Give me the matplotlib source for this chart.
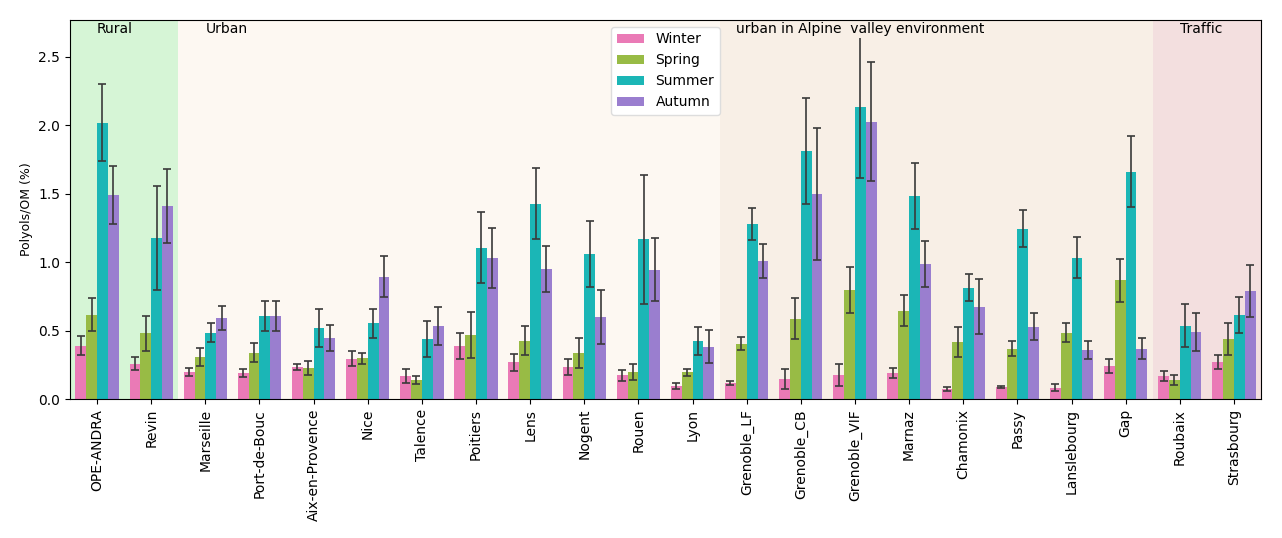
import numpy as np
import matplotlib.pyplot as plt

sites = ['OPE-ANDRA', 'Revin', 'Marseille', 'Port-de-Bouc', 'Aix-en-Provence', 'Nice',
         'Talence', 'Poitiers', 'Lens', 'Nogent', 'Rouen', 'Lyon', 'Grenoble_LF',
         'Grenoble_CB', 'Grenoble_VIF', 'Marnaz', 'Chamonix', 'Passy', 'Lanslebourg',
         'Gap', 'Roubaix', 'Strasbourg']
seasons = ['Winter', 'Spring', 'Summer', 'Autumn']

winter = [0.39, 0.26, 0.20, 0.19, 0.236, 0.295, 0.17, 0.39, 0.268, 0.236, 0.175, 0.097,
          0.119, 0.148, 0.175, 0.19, 0.075, 0.09, 0.083, 0.243, 0.17, 0.273]
spring = [0.616, 0.48, 0.31, 0.34, 0.229, 0.30, 0.14, 0.47, 0.426, 0.338, 0.20, 0.197,
          0.404, 0.587, 0.80, 0.645, 0.419, 0.368, 0.485, 0.867, 0.141, 0.44]
summer = [2.02, 1.18, 0.487, 0.61, 0.52, 0.553, 0.438, 1.106, 1.428, 1.06, 1.167, 0.424,
          1.279, 1.815, 2.137, 1.486, 0.814, 1.245, 1.033, 1.662, 0.536, 0.614]
autumn = [1.49, 1.41, 0.594, 0.61, 0.448, 0.894, 0.536, 1.033, 0.952, 0.60, 0.945, 0.382,
          1.011, 1.50, 2.025, 0.989, 0.675, 0.529, 0.36, 0.368, 0.492, 0.792]

winter_err = [0.07, 0.05, 0.03, 0.027, 0.023, 0.056, 0.05, 0.096, 0.065, 0.06, 0.04, 0.02,
              0.017, 0.07, 0.08, 0.035, 0.012, 0.008, 0.025, 0.052, 0.038, 0.052]
spring_err = [0.12, 0.13, 0.065, 0.07, 0.05, 0.04, 0.03, 0.166, 0.105, 0.107, 0.06, 0.025,
              0.047, 0.15, 0.168, 0.113, 0.11, 0.055, 0.07, 0.156, 0.038, 0.116]
summer_err = [0.28, 0.38, 0.07, 0.11, 0.14, 0.105, 0.13, 0.26, 0.26, 0.24, 0.47, 0.10,
              0.116, 0.387, 0.52, 0.24, 0.10, 0.136, 0.15, 0.257, 0.157, 0.133]
autumn_err = [0.21, 0.27, 0.09, 0.11, 0.095, 0.15, 0.14, 0.22, 0.17, 0.195, 0.23, 0.12,
              0.124, 0.48, 0.435, 0.166, 0.20, 0.10, 0.065, 0.078, 0.14, 0.19]

# environment groups: (label, first site index, last site index, colour)
regions = [('Rural', 0, 1, '#d6f5d6'),
           ('Urban', 2, 11, '#fdf8f2'),
           ('urban in Alpine  valley environment', 12, 19, '#f8efe6'),
           ('Traffic', 20, 21, '#f3dfdf')]
label_x = [0, 2, 11.8, 20]

colors = ['#ea7ab6', '#98bb45', '#1bb6b6', '#9a7ecf']

fig = plt.figure(figsize=(12.82, 5.38), dpi=100)
ax = fig.add_axes([0.0546, 0.258, 0.929, 0.705])

for (name, i0, i1, col), lx in zip(regions, label_x):
    ax.axvspan(i0 - 0.5, i1 + 0.5, color=col, zorder=0, lw=0)
    ax.text(lx, 2.705, name, ha='left', va='center', fontsize=10, zorder=5,
            bbox=dict(facecolor=col, edgecolor='none', pad=1.5))

x = np.arange(len(sites))
w = 0.2
values = [winter, spring, summer, autumn]
errs = [winter_err, spring_err, summer_err, autumn_err]
for k in range(4):
    ax.bar(x + (k - 1.5) * w, values[k], w, color=colors[k], label=seasons[k], zorder=2,
           yerr=errs[k], capsize=3,
           error_kw=dict(ecolor='#3a3a3a', elinewidth=1.2, capthick=1.2, zorder=3))

for sp in ax.spines.values():
    sp.set_zorder(10)

ax.set_xlim(-0.5, len(sites) - 0.5)
ax.set_ylim(0, 2.77)
ax.set_xticks(x)
ax.set_xticklabels(sites, rotation=90, fontsize=10)
ax.set_yticks([0, 0.5, 1.0, 1.5, 2.0, 2.5])
ax.tick_params(axis='y', labelsize=10)
ax.set_ylabel('Polyols/OM (%)', fontsize=9)
leg = ax.legend(loc='upper center', fontsize=10, framealpha=1, edgecolor='#dddddd')
leg.set_zorder(11)

fig.savefig('out.png', dpi=100)
